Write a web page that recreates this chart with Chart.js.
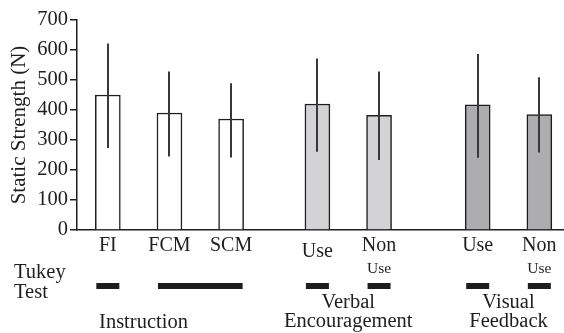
<!DOCTYPE html>
<html><head><meta charset="utf-8">
<script src="https://cdn.jsdelivr.net/npm/chart.js@4/dist/chart.umd.min.js"></script>
<style>html,body{margin:0;padding:0;background:#fff}#wrap{width:564px;height:333px;position:relative}</style>
</head><body><div id="wrap"><canvas id="c"></canvas></div>
<script>
// ---- data ----
const categories = ['FI', 'FCM', 'SCM', 'Use', 'Non', 'Use', 'Non'];
const subLabels  = ['', '', '', '', 'Use', '', 'Use'];
const means      = [450, 390, 370, 420, 382, 417, 385];
const errHigh    = [622, 528, 489, 572, 528, 587, 509];
const errLow     = [273, 245, 242, 261, 233, 241, 258];
const groupNames = [['Instruction'], ['Verbal', 'Encouragement'], ['Visual', 'Feedback']];
const groupOf    = [0, 0, 0, 1, 1, 2, 2];
const tukeySets  = [[0], [1, 2], [3], [4], [5], [6]];
const yTickValues = [0, 100, 200, 300, 400, 500, 600, 700];
const yTitle = 'Static Strength (N)';
const tukeyLabel = ['Tukey', 'Test'];

// ---- layout / style ----
const slots = [5, 15, 25, 39, 49, 65, 75];
const labelDy = [0, 0, 0, 6, 0, 0, 0];
const barColors = ['#ffffff', '#ffffff', '#ffffff', '#d3d3d5', '#d3d3d5', '#adadb0', '#adadb0'];
const groupShift = [-26, 0, 0];
const SERIF = '"Liberation Serif", "Times New Roman", serif';
const INK = '#1e1e1e';

const overlay = {
  id: 'overlay',
  afterDatasetsDraw(chart) {
    const ctx = chart.ctx, xs = chart.scales.x, ys = chart.scales.y;
    ctx.save();
    ctx.strokeStyle = '#383838';
    ctx.lineWidth = 2;
    slots.forEach((s, i) => {
      const x = Math.round(xs.getPixelForValue(s));
      ctx.beginPath();
      ctx.moveTo(x, ys.getPixelForValue(errHigh[i]));
      ctx.lineTo(x, ys.getPixelForValue(errLow[i]));
      ctx.stroke();
    });
    ctx.restore();
  },
  afterDraw(chart) {
    const ctx = chart.ctx, xs = chart.scales.x;
    const bars = chart.getDatasetMeta(0).data;
    ctx.save();
    ctx.fillStyle = INK;
    ctx.textAlign = 'center';
    ctx.textBaseline = 'middle';
    categories.forEach((c, i) => {
      const x = xs.getPixelForValue(slots[i]);
      ctx.font = '20px ' + SERIF;
      ctx.fillText(c, x, 246 + labelDy[i]);
      if (subLabels[i]) {
        ctx.font = '15.5px ' + SERIF;
        ctx.fillText(subLabels[i], x, 269);
      }
    });
    ctx.textAlign = 'left';
    ctx.font = '20.5px ' + SERIF;
    ctx.fillText(tukeyLabel[0], 14, 273);
    ctx.fillText(tukeyLabel[1], 14, 293);
    tukeySets.forEach(set => {
      const a = bars[set[0]], b = bars[set[set.length - 1]];
      const x0 = a.x - a.width / 2, x1 = b.x + b.width / 2;
      ctx.fillRect(x0 + 1, 283, x1 - x0 - 2, 6);
    });
    ctx.textAlign = 'center';
    ctx.font = '20.5px ' + SERIF;
    groupNames.forEach((lines, g) => {
      const idx = groupOf.map((v, i) => v === g ? i : -1).filter(i => i >= 0);
      const cx = (bars[idx[0]].x + bars[idx[idx.length - 1]].x) / 2 + groupShift[g];
      if (lines.length === 1) {
        ctx.fillText(lines[0], cx, 323);
      } else {
        ctx.fillText(lines[0], cx, 303);
        ctx.fillText(lines[1], cx, 322);
      }
    });
    ctx.restore();
  }
};

new Chart(document.getElementById('c'), {
  type: 'bar',
  data: {
    datasets: [{
      data: slots.map((s, i) => ({ x: s, y: means[i] })),
      backgroundColor: barColors,
      borderColor: INK,
      borderWidth: 1.5,
      barThickness: 25
    }]
  },
  options: {
    responsive: true,
    maintainAspectRatio: false,
    animation: false,
    plugins: { legend: { display: false }, tooltip: { enabled: false } },
    layout: { padding: { left: 0, right: 0, top: 20, bottom: 103 } },
    scales: {
      x: {
        type: 'linear',
        min: 0, max: 79,
        offset: false,
        ticks: { display: false },
        grid: { display: false, drawTicks: false, offset: false },
        border: { display: true, color: INK, width: 1.5 },
        afterFit: s => { s.height = 0; }
      },
      y: {
        min: 0, max: 700,
        afterBuildTicks: s => { s.ticks = yTickValues.map(v => ({ value: v })); },
        ticks: { color: INK, font: { family: SERIF, size: 20.5 }, padding: 2 },
        grid: { drawOnChartArea: false, drawTicks: true, tickLength: 7, color: INK, lineWidth: 1.5 },
        border: { display: true, color: INK, width: 1.5 },
        title: { display: true, text: yTitle, color: INK, font: { family: SERIF, size: 21 }, padding: { top: 7, bottom: 0 } },
        afterFit: s => { s.width = 77; }
      }
    }
  },
  plugins: [overlay]
});
</script></body></html>
